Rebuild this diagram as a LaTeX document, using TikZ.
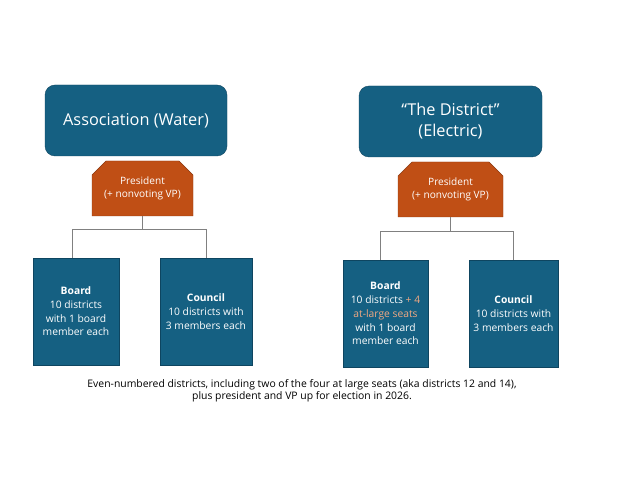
\documentclass[tikz,border=0pt]{standalone}
\usepackage{fontspec}
\setmainfont{Open Sans}
\usetikzlibrary{shapes.misc, positioning, calc}

\definecolor{orgblue}{HTML}{156082}
\definecolor{orgedge}{HTML}{0E4560}
\definecolor{presorange}{HTML}{C04F15}
\definecolor{presedge}{HTML}{8A3810}
\definecolor{seatorange}{HTML}{F1A983}
\definecolor{linkgray}{HTML}{808080}

\tikzset{
  orgbox/.style={draw=orgedge, fill=orgblue, rounded corners=10pt, text=white, align=center,
    font=\fontsize{16.3}{21}\selectfont, minimum width=182pt, minimum height=71pt, inner sep=0pt},
  presbox/.style={chamfered rectangle, chamfered rectangle corners={north west,north east},
    chamfered rectangle xsep=6pt, chamfered rectangle ysep=8pt,
    draw=presedge, fill=presorange, text=white, align=center,
    font=\fontsize{10.1}{13.5}\selectfont, minimum width=101pt, minimum height=55pt, inner sep=0pt},
  unitbox/.style={draw=orgedge, fill=orgblue, text=white, align=center,
    font=\fontsize{10.3}{13.7}\selectfont, minimum height=107pt, inner sep=0pt},
  link/.style={draw=linkgray, line width=1pt},
}

\begin{document}
\begin{tikzpicture}[x=1pt, y=-1pt]
  \useasboundingbox[fill=white] (0,0) rectangle (622,481);

  % water side
  \node[orgbox] (water) at (136,120.5) {Association (Water)};
  \node[presbox] (lpres) at (142.5,188.5) {President\\(+ nonvoting VP)};
  \node[unitbox, minimum width=86pt] (lboard) at (76,311.5)
    {\textbf{Board}\\10 districts\\with 1 board\\member each};
  \node[unitbox, minimum width=92pt] (lcouncil) at (206,311.5)
    {\textbf{Council}\\10 districts with\\3 members each};
  \draw[link] (lpres.south) -- ++(0,13) coordinate (lbus);
  \draw[link] ([xshift=-4pt]lboard.north) |- (lbus) -| (lcouncil.north);

  % electric side
  \node[orgbox, minimum width=183pt] (electric) at (450.5,121.5) {“The District”\\(Electric)};
  \node[presbox, minimum width=105pt] (rpres) at (450.5,189.5) {President\\(+ nonvoting VP)};
  \node[unitbox, minimum width=85pt] (rboard) at (385.5,313.5)
    {\textbf{Board}\\10 districts \textcolor{seatorange}{+ 4}\\\textcolor{seatorange}{at-large seats}\\with 1 board\\member each};
  \node[unitbox, minimum width=89pt] (rcouncil) at (513.5,313.5)
    {\textbf{Council}\\10 districts with\\3 members each};
  \draw[link] (rpres.south) -- ++(0,14) coordinate (rbus);
  \draw[link] ([xshift=-5.5pt]rboard.north) |- (rbus) -| (rcouncil.north);

  \node[align=center, font=\fontsize{10.4}{12.5}\selectfont] (note) at (302,391)
    {Even-numbered districts, including two of the four at large seats (aka districts 12 and 14),\\
     plus president and VP up for election in 2026.};
\end{tikzpicture}
\end{document}
